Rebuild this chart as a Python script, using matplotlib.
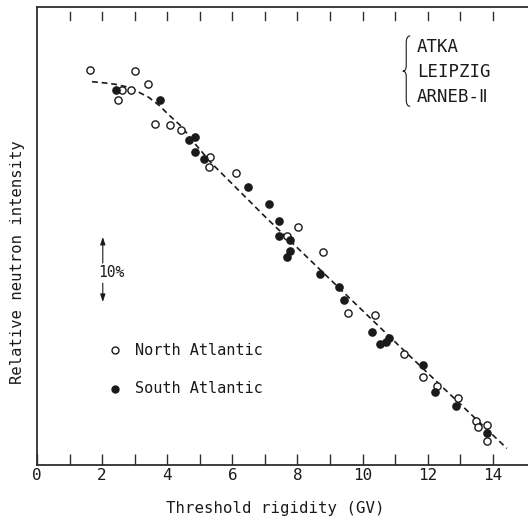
import matplotlib
matplotlib.use("Agg")
import matplotlib.pyplot as plt
from matplotlib.path import Path
from matplotlib.patches import PathPatch

# threshold rigidity (GV) and relative neutron intensity (%, arbitrary zero)
north_x = [1.64, 3.02, 3.40, 2.61, 2.89, 2.49, 3.63, 4.08, 4.43, 5.32, 5.27,
           6.10, 7.68, 8.01, 8.77, 9.54, 10.37, 11.28, 11.87, 12.30, 12.93,
           13.48, 13.54, 13.83, 13.83]
north_y = [60.8, 60.7, 58.7, 57.7, 57.7, 56.2, 52.5, 52.4, 51.5, 47.4, 45.8,
           44.9, 35.3, 36.7, 32.8, 23.4, 23.1, 17.1, 13.5, 12.2, 10.3,
           6.8, 5.9, 6.15, 3.7]

south_x = [2.43, 3.77, 4.67, 4.86, 4.86, 5.13, 6.48, 7.12, 7.42, 7.42, 7.78,
           7.69, 7.76, 8.68, 9.26, 9.43, 10.29, 10.54, 10.72, 10.80, 11.84,
           12.23, 12.88, 13.82]
south_y = [57.8, 56.2, 50.0, 50.5, 48.2, 47.1, 42.8, 40.2, 37.6, 35.3, 34.6,
           32.0, 32.9, 29.4, 27.4, 25.4, 20.4, 18.6, 19.0, 19.6, 15.4,
           11.2, 9.1, 5.0]

# hand-drawn trend curve
fit_x = [1.69, 2.10, 2.41, 2.76, 3.12, 3.43, 3.74, 4.09, 4.45, 4.86, 5.37,
         7.01, 9.06, 11.11, 14.43]
fit_y = [59.0, 58.8, 58.6, 58.2, 57.4, 56.6, 55.4, 53.7, 52.05, 49.4, 46.4,
         38.2, 28.3, 18.4, 2.56]

stations = ["ATKA", "LEIPZIG", "ARNEB-\u2161"]
xtick_pos = list(range(0, 15))
xtick_labels = [str(t) if t % 2 == 0 else "" for t in xtick_pos]

fonts = ["DejaVu Sans Mono", "DejaVu Sans", "Noto Sans CJK JP"]
ink = "#1a1a1a"
rule = "#2e2e2e"

fig = plt.figure(figsize=(5.28, 5.24), dpi=100)
ax = fig.add_axes([37 / 528, 59 / 524, 491 / 528, 458 / 524])
ax.set_xlim(0, 15.08)
ax.set_ylim(0, 70.5)

ax.plot(fit_x, fit_y, color=ink, lw=1.2, linestyle=(0, (3.5, 2.3)), zorder=2)
ax.plot(north_x, north_y, "o", ms=5.2, mfc="white", mec=ink, mew=1.0,
        zorder=3, clip_on=False)
ax.plot(south_x, south_y, "o", ms=5.2, mfc=ink, mec=ink, mew=1.0, zorder=4,
        clip_on=False)

ax.spines["right"].set_visible(False)
for side in ("left", "bottom", "top"):
    ax.spines[side].set_color(rule)
    ax.spines[side].set_linewidth(1.3)

ax.set_yticks([])
ax.set_xticks(xtick_pos)
ax.set_xticklabels(xtick_labels, fontfamily=fonts, fontsize=11.5, color=ink)
ax.tick_params(axis="x", direction="in", length=8, width=1.0, color=rule,
               pad=2, top=False)

# ticks under the top rule, slightly detached from it
for t in xtick_pos[1:]:
    ax.axvline(t, 0.972, 0.989, color=rule, lw=1.0)

fig.text(275 / 528, 1 - 508 / 524, "Threshold rigidity (GV)", ha="center",
         va="center", fontfamily=fonts, fontsize=11.3, color=ink)
fig.text(18 / 528, 1 - 262 / 524, "Relative neutron intensity", ha="center",
         va="center", rotation=90, fontfamily=fonts, fontsize=11.2, color=ink)

# 10 % scale arrows
arrow = dict(arrowstyle="-|>,head_length=0.45,head_width=0.15", lw=0.8,
             color=ink, shrinkA=0, shrinkB=0)
ax.annotate("", xy=(0.134, 0.498), xytext=(0.134, 0.441),
            xycoords="axes fraction", arrowprops=arrow)
ax.annotate("", xy=(0.134, 0.356), xytext=(0.134, 0.397),
            xycoords="axes fraction", arrowprops=arrow)
ax.text(0.152, 0.420, "10%", transform=ax.transAxes, ha="center", va="center",
        fontfamily=fonts, fontsize=10.5, color=ink)

# symbol key
ax.plot([0.159], [0.251], "o", ms=5.0, mfc="white", mec=ink, mew=1.0,
        transform=ax.transAxes)
ax.plot([0.159], [0.166], "o", ms=5.0, mfc=ink, mec=ink,
        transform=ax.transAxes)
ax.text(0.199, 0.251, "North Atlantic", transform=ax.transAxes, va="center",
        fontfamily=fonts, fontsize=11, color=ink)
ax.text(0.199, 0.166, "South Atlantic", transform=ax.transAxes, va="center",
        fontfamily=fonts, fontsize=11, color=ink)

# station list with curly brace
for i, name in enumerate(stations):
    ax.text(0.774, 0.913 - i * 0.055, name, transform=ax.transAxes,
            va="center", fontfamily=fonts, fontsize=12.5, color=ink)

xr, xm, xl = 0.760, 0.752, 0.745
yt, yc, yb = 0.937, 0.860, 0.783
brace = Path(
    [(xr, yt), (xm, yt), (xm, yt - 0.015),
     (xm, yc + 0.012),
     (xm, yc), (xl, yc),
     (xm, yc), (xm, yc - 0.012),
     (xm, yb + 0.015),
     (xm, yb), (xr, yb)],
    [Path.MOVETO, Path.CURVE3, Path.CURVE3,
     Path.LINETO,
     Path.CURVE3, Path.CURVE3,
     Path.CURVE3, Path.CURVE3,
     Path.LINETO,
     Path.CURVE3, Path.CURVE3])
ax.add_patch(PathPatch(brace, transform=ax.transAxes, fill=False,
                       lw=0.8, color=ink))

fig.savefig("out.png", dpi=100)
